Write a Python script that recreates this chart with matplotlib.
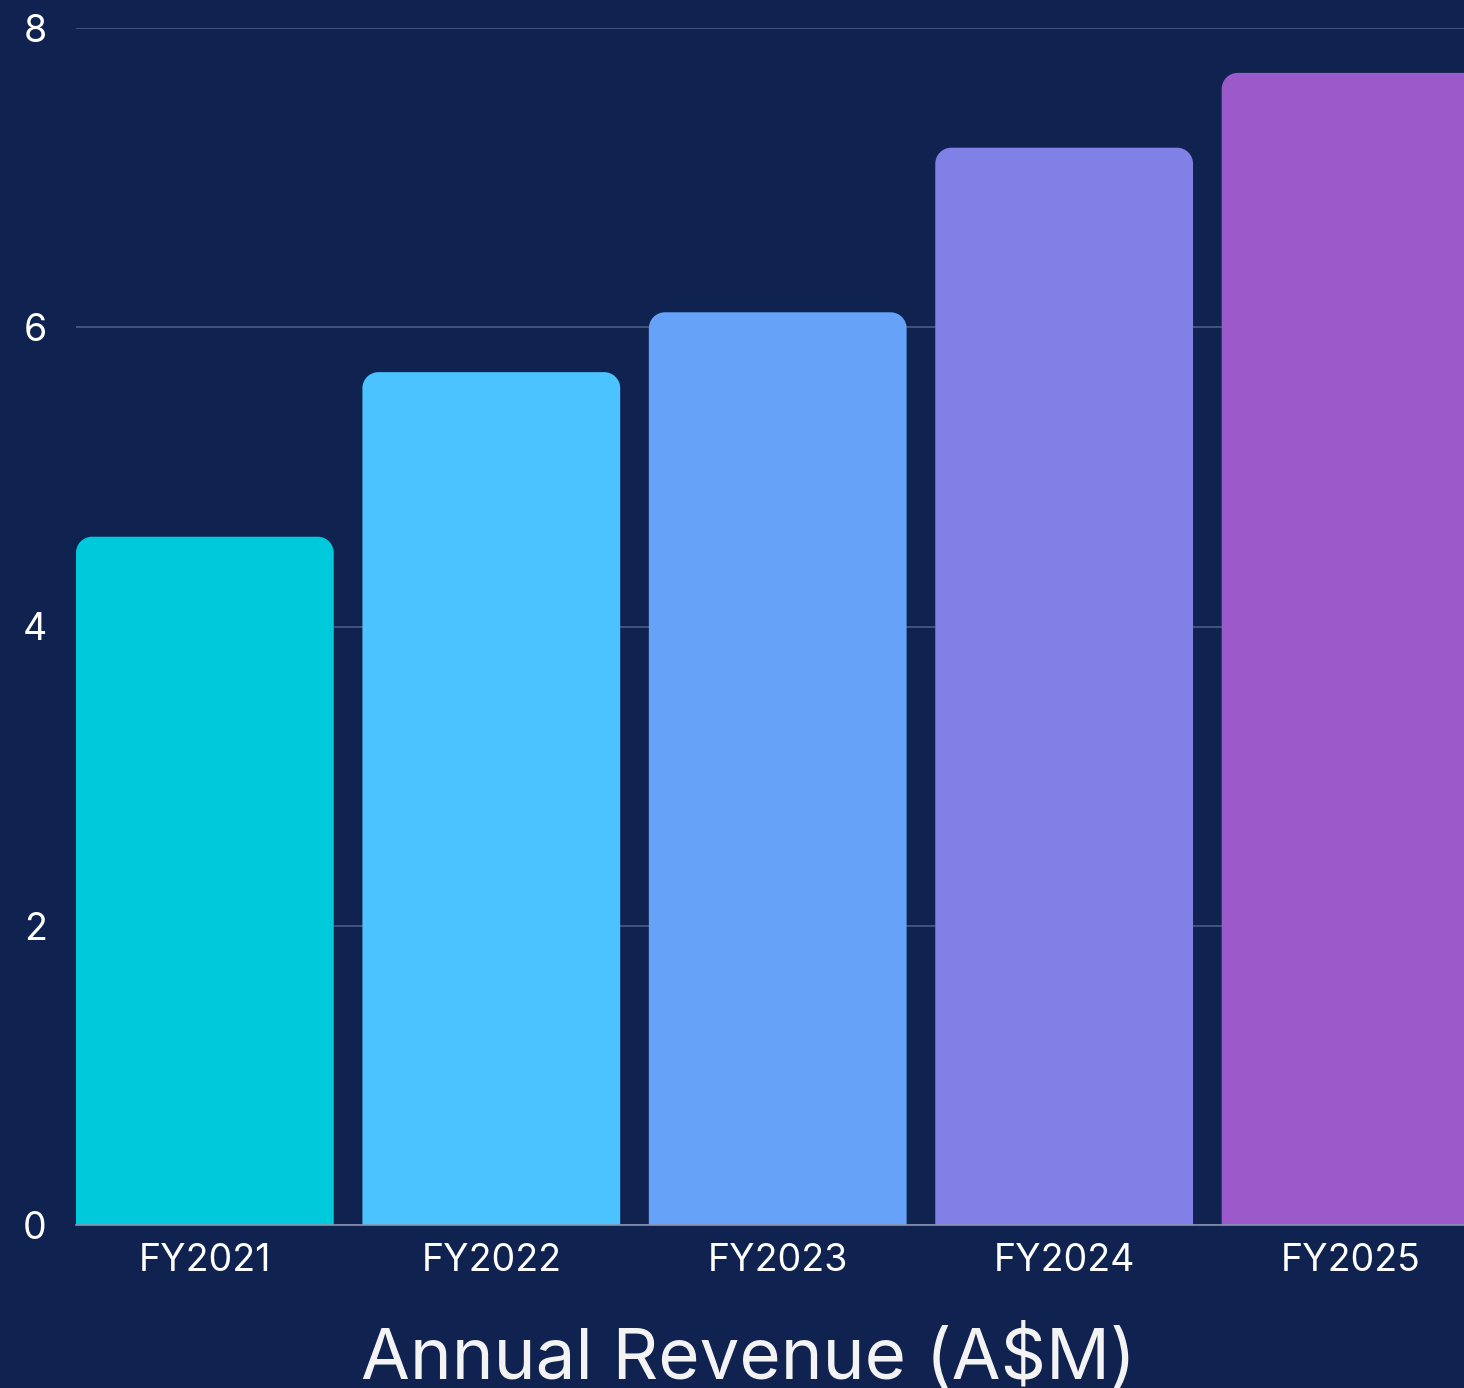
import matplotlib
matplotlib.use("Agg")
import matplotlib.pyplot as plt
from matplotlib.path import Path
from matplotlib.patches import PathPatch

categories = ["FY2021", "FY2022", "FY2023", "FY2024", "FY2025"]
revenue = [4.6, 5.7, 6.1, 7.2, 7.7]
colors = ["#00C9DB", "#4AC3FF", "#66A3F8", "#8080E6", "#9B59CA"]
yticks = [0, 2, 4, 6, 8]
title = "Annual Revenue (A$M)"

BG = "#10224F"
W, H, DPI = 1464, 1388, 100
plt.rcParams['font.family'] = ['Inter', 'DejaVu Sans']

fig = plt.figure(figsize=(W / DPI, H / DPI), dpi=DPI, facecolor=BG)
ax = fig.add_axes([76 / W, (1388 - 1225) / H, 1 - 76 / W, (1225 - 28) / H])
ax.set_facecolor(BG)

x = list(range(len(categories)))
bars = ax.bar(x, revenue, width=0.9, color=colors, zorder=2)
ax.set_xlim(-0.45, 4.396)
ax.set_ylim(0, 8)

# rounded top corners
fig.canvas.draw()
trans = ax.transData
inv = trans.inverted()
rpx = 16
for b in bars:
    x0, y0 = b.get_x(), b.get_y()
    w, h = b.get_width(), b.get_height()
    p0 = trans.transform((x0, y0))
    p1 = trans.transform((x0 + w, y0 + h))
    rx = inv.transform((p0[0] + rpx, p0[1]))[0] - x0
    ry = y0 + h - inv.transform((p1[0], p1[1] - rpx))[1]
    k = 0.5523
    verts = [
        (x0, y0), (x0, y0 + h - ry),
        (x0, y0 + h - ry + k * ry), (x0 + rx - k * rx, y0 + h), (x0 + rx, y0 + h),
        (x0 + w - rx, y0 + h),
        (x0 + w - rx + k * rx, y0 + h), (x0 + w, y0 + h - ry + k * ry), (x0 + w, y0 + h - ry),
        (x0 + w, y0), (x0, y0),
    ]
    codes = [Path.MOVETO, Path.LINETO,
             Path.CURVE4, Path.CURVE4, Path.CURVE4,
             Path.LINETO,
             Path.CURVE4, Path.CURVE4, Path.CURVE4,
             Path.LINETO, Path.CLOSEPOLY]
    patch = PathPatch(Path(verts, codes), facecolor=b.get_facecolor(), edgecolor='none', zorder=2)
    b.set_visible(False)
    ax.add_patch(patch)

ax.set_yticks(yticks)
ax.set_xticks(x)
ax.set_xticklabels(categories)
ax.tick_params(axis='both', length=0, colors='white', labelsize=27)
ax.tick_params(axis='y', pad=21)
ax.tick_params(axis='x', pad=13)
ax.grid(axis='y', color='#4B5B85', linewidth=1.2, zorder=0)
ax.set_axisbelow(True)
for s in ['top', 'right', 'left']:
    ax.spines[s].set_visible(False)
ax.spines['bottom'].set_color('#8A93AE')
ax.spines['bottom'].set_linewidth(1.2)

fig.text(748 / W, (1388 - 1379) / H, title, color='#F3F3F3', fontsize=51,
         ha='center', va='baseline')

fig.savefig("out.png", dpi=DPI, facecolor=BG)
